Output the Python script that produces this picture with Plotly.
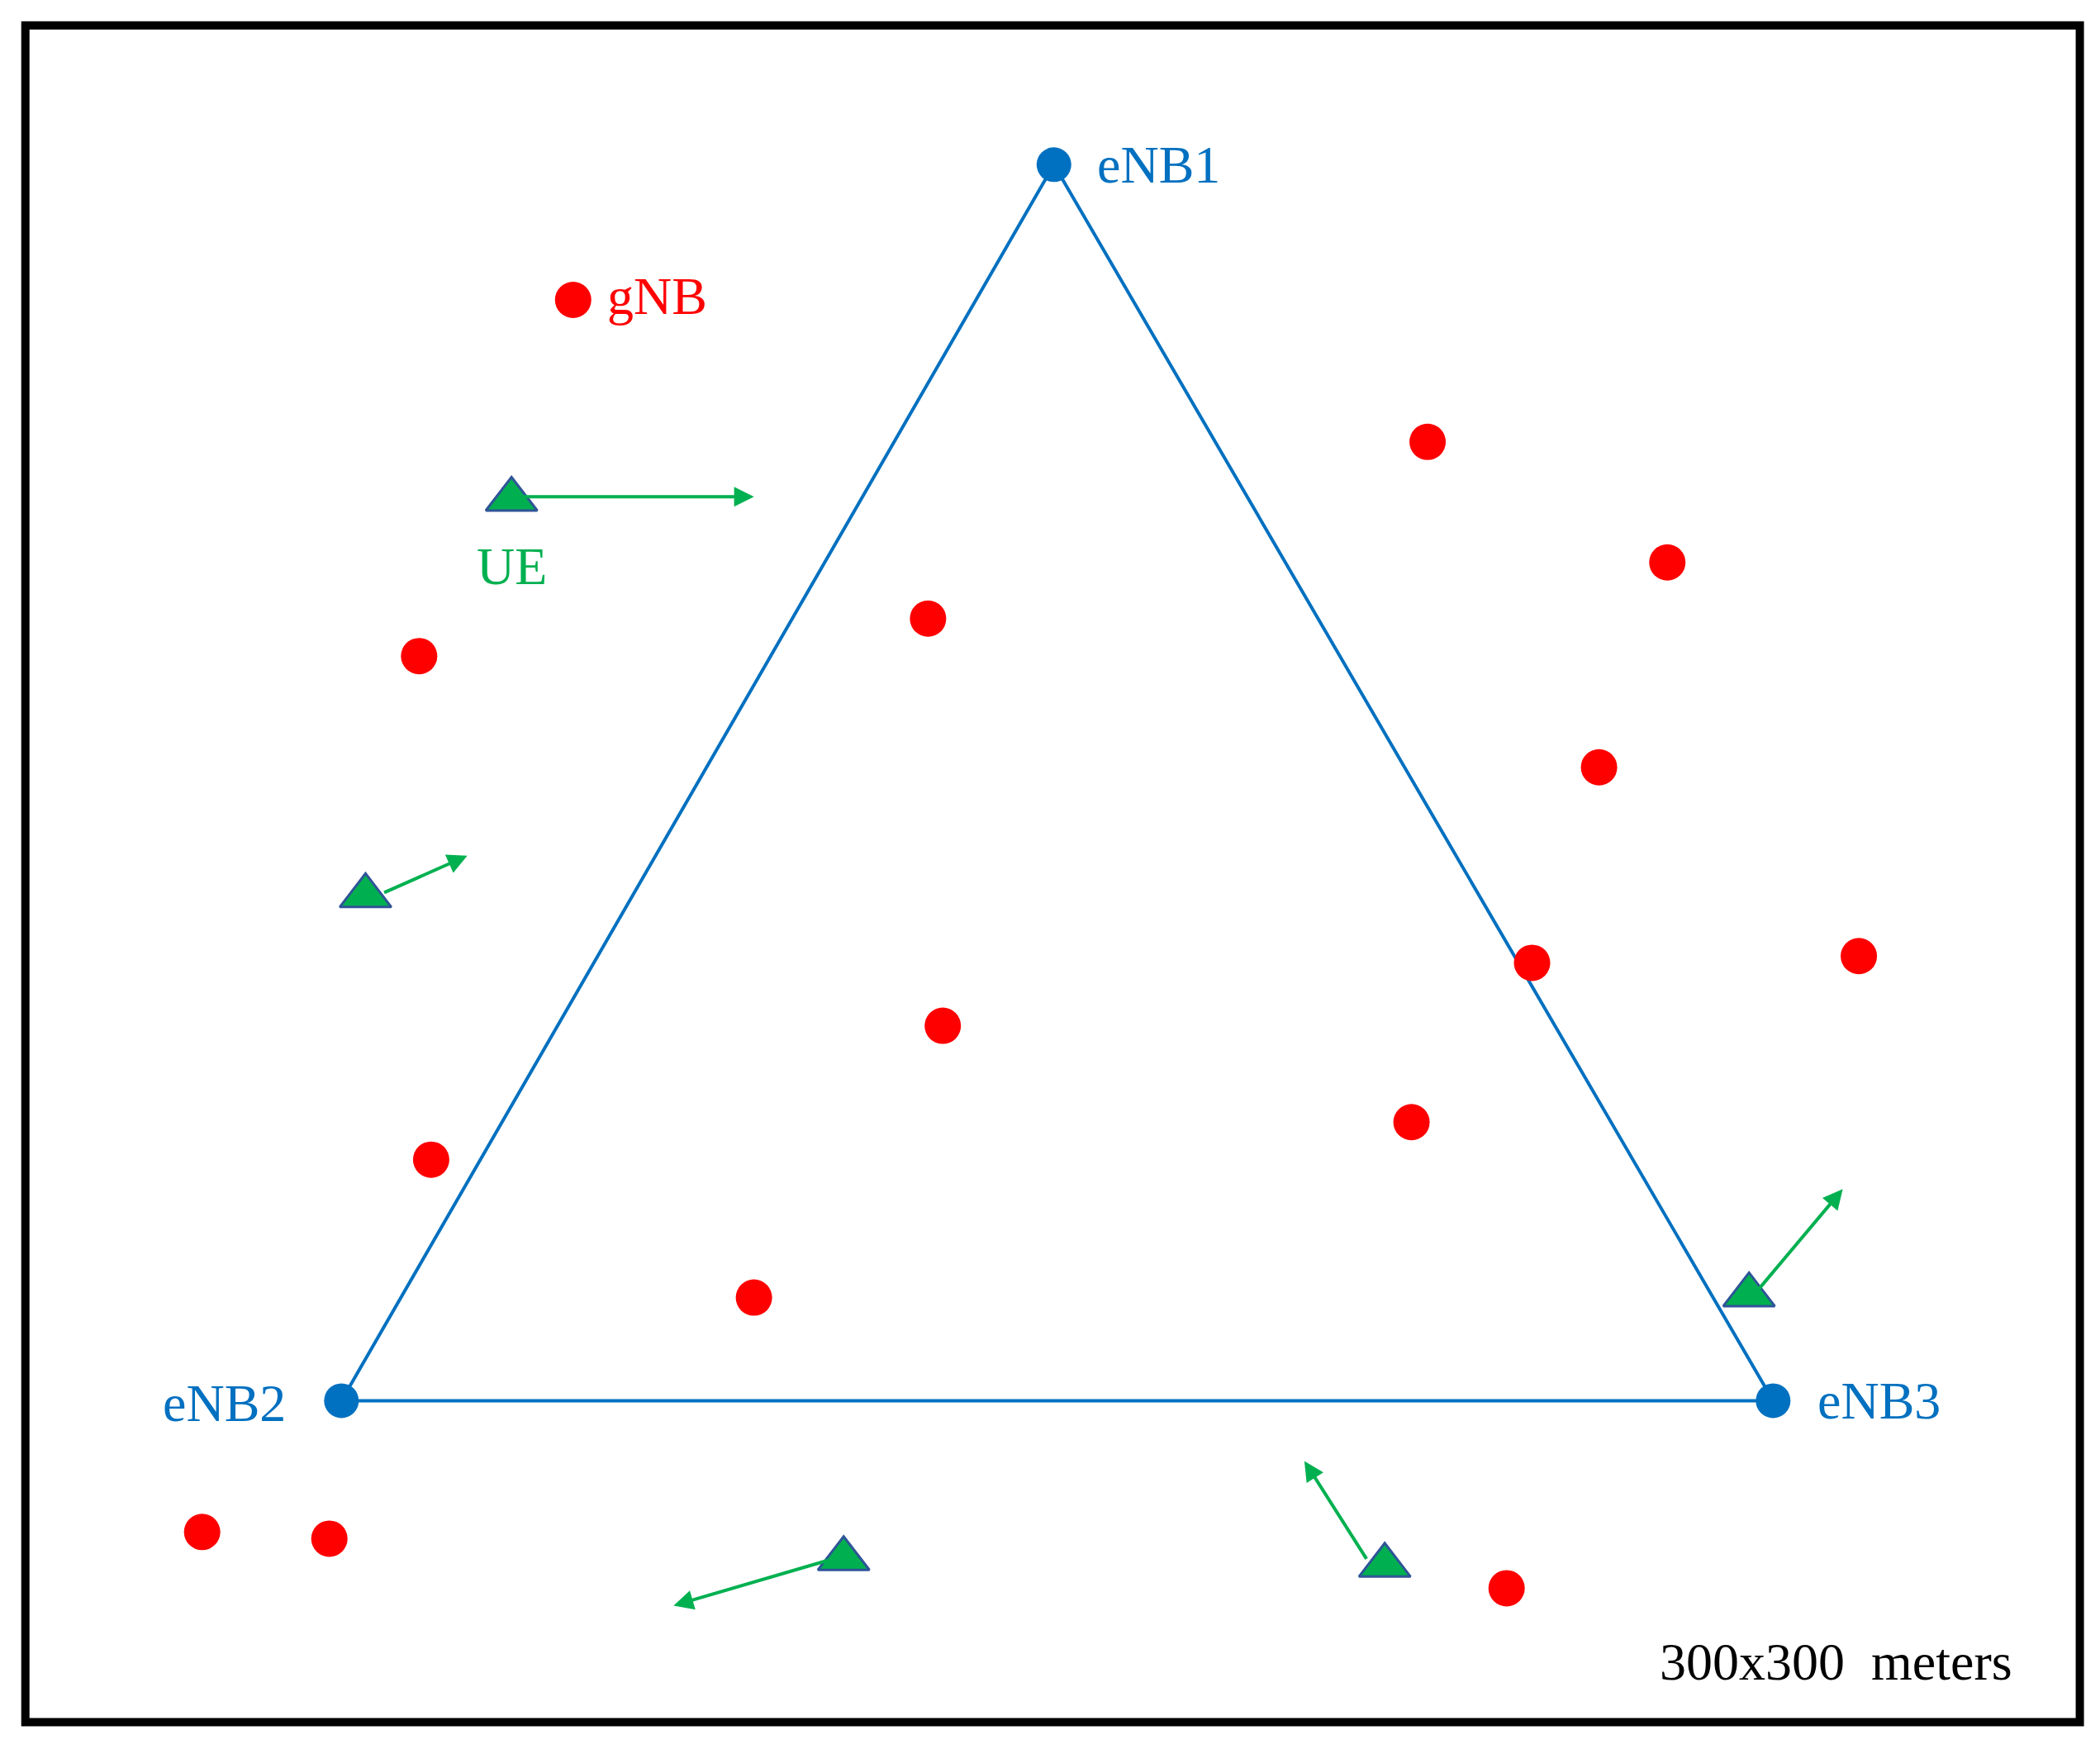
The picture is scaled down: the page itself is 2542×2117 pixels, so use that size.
import plotly.graph_objects as go

# coordinates in picture units (x right, y down), 1568 x 1306 frame
enb_x = [786, 254, 1323]
enb_y = [122, 1045, 1045]
enb_labels = ["eNB1", "eNB2", "eNB3"]

gnb_x = [427, 1065, 1244, 692, 312, 1193, 1143, 1387, 703, 1053, 321, 562, 150, 245, 1124]
gnb_y = [223, 329, 419, 461, 489, 572, 718, 713, 765, 837, 865, 968, 1143, 1148, 1185]

ue_x = [381, 272, 1305, 629, 1033]
ue_y = [372, 668, 966, 1163, 1168]
arrow_tail_x = [388, 285, 1312, 618, 1020]
arrow_tail_y = [370, 666, 962, 1164, 1164]
arrow_head_x = [562, 348, 1375, 502, 973]
arrow_head_y = [370, 638, 887, 1198, 1090]

BLUE = "#0070C0"
RED = "#FF0000"
GREEN = "#00B050"
FONT = "Liberation Serif"

fig = go.Figure()
fig.add_trace(go.Scatter(x=enb_x + [enb_x[0]], y=enb_y + [enb_y[0]], mode="lines",
                         line=dict(color=BLUE, width=4), hoverinfo="skip"))
fig.add_trace(go.Scatter(x=gnb_x, y=gnb_y, mode="markers",
                         marker=dict(color=RED, size=44, symbol="circle"), hoverinfo="skip"))
for tx, ty, hx, hy in zip(arrow_tail_x, arrow_tail_y, arrow_head_x, arrow_head_y):
    fig.add_annotation(x=hx, y=hy, ax=tx, ay=ty, xref="x", yref="y", axref="x", ayref="y",
                       showarrow=True, arrowhead=2, arrowsize=1.2, arrowwidth=4,
                       arrowcolor=GREEN, text="")
fig.add_trace(go.Scatter(x=ue_x, y=ue_y, mode="markers",
                         marker=dict(color=GREEN, size=54, symbol="triangle-up",
                                     line=dict(color="#2F5597", width=3)), hoverinfo="skip"))
fig.add_trace(go.Scatter(x=enb_x, y=enb_y, mode="markers",
                         marker=dict(color=BLUE, size=42), hoverinfo="skip"))

fs = 64
fig.add_annotation(x=enb_x[0] + 31, y=enb_y[0], text=enb_labels[0], showarrow=False,
                   xanchor="left", font=dict(family=FONT, size=fs, color=BLUE))
fig.add_annotation(x=enb_x[1] - 40, y=enb_y[1] + 2, text=enb_labels[1], showarrow=False,
                   xanchor="right", font=dict(family=FONT, size=fs, color=BLUE))
fig.add_annotation(x=enb_x[2] + 32, y=enb_y[2], text=enb_labels[2], showarrow=False,
                   xanchor="left", font=dict(family=FONT, size=fs, color=BLUE))
fig.add_annotation(x=gnb_x[0] + 24, y=gnb_y[0] - 3, text="gNB", showarrow=False,
                   xanchor="left", font=dict(family=FONT, size=fs, color=RED))
fig.add_annotation(x=ue_x[0], y=ue_y[0] + 50, text="UE", showarrow=False,
                   xanchor="center", font=dict(family=FONT, size=fs, color=GREEN))
fig.add_annotation(x=1370, y=1240, text="300x300&nbsp;&nbsp;meters", showarrow=False,
                   xanchor="center", font=dict(family=FONT, size=fs, color="black"))

fig.add_shape(type="rect", xref="x", yref="y", x0=18, y0=18, x1=1552, y1=1285,
              line=dict(color="black", width=10))

fig.update_layout(width=2542, height=2117, margin=dict(l=0, r=0, t=0, b=0),
                  paper_bgcolor="white", plot_bgcolor="white", showlegend=False,
                  xaxis=dict(range=[4, 1572], visible=False, fixedrange=True),
                  yaxis=dict(range=[1310, 4], visible=False, fixedrange=True))
fig.write_html("out.html")
